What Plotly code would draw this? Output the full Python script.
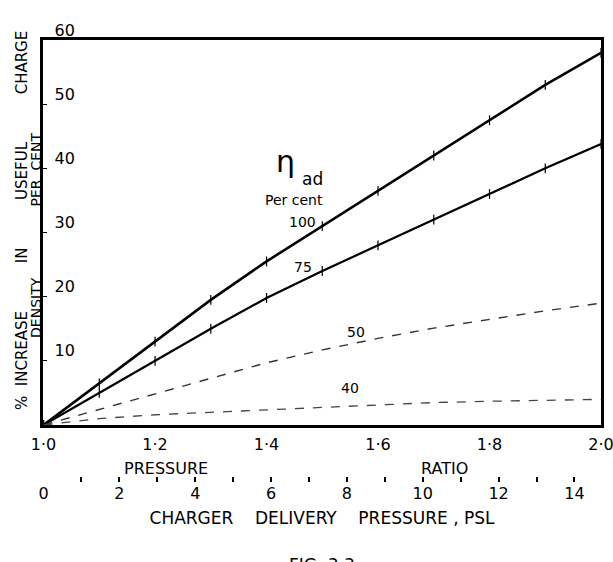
import plotly.graph_objects as go

# ---- data ----
pressure_ratio = [1.0, 1.1, 1.2, 1.3, 1.4, 1.5, 1.6, 1.7, 1.8, 1.9, 2.0]
eff_100 = [0, 6.5, 13.0, 19.5, 25.5, 31.0, 36.5, 42.0, 47.5, 53.0, 58.0]
eff_75 = [0, 5.0, 10.0, 15.0, 19.8, 24.0, 28.0, 32.0, 36.0, 40.0, 43.8]
eff_50 = [0, 2.4, 4.8, 7.3, 9.7, 11.7, 13.5, 15.1, 16.5, 17.8, 19.0]
eff_40 = [0, 1.0, 1.6, 2.0, 2.3, 2.8, 3.2, 3.5, 3.7, 3.9, 4.0]

ratio_range = [0.999, 2.0]
ratio_ticks = [1.0, 1.2, 1.4, 1.6, 1.8, 2.0]
ratio_labels = ["1·0", "1·2", "1·4", "1·6", "1·8", "2·0"]
atm_psi = 14.7
psi_ticks = list(range(0, 15))
psi_labels = [str(v) if v % 2 == 0 else "" for v in psi_ticks]
y_ticks = [10, 20, 30, 40, 50, 60]

curve_labels = ["100", "75", "50", "40"]
label_pos_x = [1.465, 1.465, 1.56, 1.55]
label_pos_y = [31.6, 24.6, 14.5, 5.8]

FONT = "DejaVu Sans"
NB = "\u00a0"

# psi axis range follows the ratio axis: ratio = 1 + p / 14.7
psi_range = [(r - 1.0) * atm_psi for r in ratio_range]

fig = go.Figure()
for ys, w, dash, col in [
    (eff_100, 2.6, "solid", "black"),
    (eff_75, 2.2, "solid", "black"),
    (eff_50, 1.4, "dash", "#333333"),
    (eff_40, 1.3, "dash", "#444444"),
]:
    fig.add_trace(go.Scatter(
        x=pressure_ratio, y=ys, mode="lines+markers" if dash == "solid" else "lines",
        line=dict(color=col, width=w, dash=dash),
        marker=dict(symbol="line-ns-open", size=7, line=dict(color=col, width=1.2)),
        hoverinfo="skip", showlegend=False,
    ))

# bind the psi axis so that it is drawn (no visible marks)
fig.add_trace(go.Scatter(x=psi_ticks, y=[None] * len(psi_ticks), xaxis="x2", yaxis="y",
                         mode="markers", hoverinfo="skip", showlegend=False))

for t, x, y in zip(curve_labels, label_pos_x, label_pos_y):
    fig.add_annotation(x=x, y=y, xref="x", yref="y", text=t, showarrow=False,
                       font=dict(family=FONT, size=14, color="black"))

# eta_ad label
fig.add_annotation(x=1.434, y=41.1, xref="x", yref="y", text="η", showarrow=False,
                   font=dict(family=FONT, size=30, color="black"))
fig.add_annotation(x=1.482, y=38.3, xref="x", yref="y", text="ad", showarrow=False,
                   font=dict(family=FONT, size=17, color="black"))
fig.add_annotation(x=1.45, y=35.0, xref="x", yref="y", text="Per cent", showarrow=False,
                   font=dict(family=FONT, size=14, color="black"))

# ratio axis title parts
fig.add_annotation(x=1.22, y=0.068, xref="x", yref="paper", yanchor="middle",
                   text="PRESSURE", showarrow=False,
                   font=dict(family=FONT, size=16, color="black"))
fig.add_annotation(x=1.72, y=0.068, xref="x", yref="paper", yanchor="middle",
                   text="RATIO", showarrow=False,
                   font=dict(family=FONT, size=16, color="black"))

# y-axis title (two lines)
gap = NB * 10
fig.add_annotation(x=0, y=0.6065, xref="paper", yref="paper", xanchor="center", yanchor="middle",
                   xshift=-21,
                   text="%" + NB * 2 + "INCREASE" + gap + "IN" + gap + "USEFUL" + gap + "CHARGE",
                   textangle=-90, showarrow=False, font=dict(family=FONT, size=15, color="black"))
fig.add_annotation(x=0, y=0.574, xref="paper", yref="paper", xanchor="center", yanchor="middle",
                   xshift=-7,
                   text="DENSITY" + NB * 16 + "PER" + NB * 2 + "CENT",
                   textangle=-90, showarrow=False, font=dict(family=FONT, size=14, color="black"))

# figure caption (cut off at bottom)
fig.add_annotation(x=0.5, y=-0.115, xref="paper", yref="paper", yanchor="top",
                   text="FIG" + NB * 2 + "3.3", showarrow=False,
                   font=dict(family=FONT, size=17, color="black"))

fig.update_layout(
    width=613, height=562,
    margin=dict(l=43, r=12, t=40, b=62, autoexpand=False),
    paper_bgcolor="white", plot_bgcolor="white",
    showlegend=False,
    font=dict(family=FONT, color="black"),
    xaxis=dict(
        range=ratio_range, tickvals=ratio_ticks, ticktext=ratio_labels,
        ticks="", showline=True, mirror=True, linecolor="black", linewidth=2.5,
        showgrid=False, zeroline=False, tickfont=dict(size=16, color="black"),
        ticklabelstandoff=3, ticklabeloverflow="allow", automargin=False,
    ),
    xaxis2=dict(
        overlaying="x", anchor="free", position=0.039, side="bottom",
        range=psi_range, tickvals=psi_ticks, ticktext=psi_labels,
        ticks="inside", ticklen=5, tickwidth=1.5, tickcolor="black",
        showline=False, showgrid=False, zeroline=False,
        tickfont=dict(size=16, color="black"),
        ticklabeloverflow="allow", automargin=False,
        title=dict(text="CHARGER" + NB * 4 + "DELIVERY" + NB * 4 + "PRESSURE" + NB + "," + NB + "PSL",
                   font=dict(size=17, color="black"), standoff=10),
    ),
    yaxis=dict(
        domain=[0.163, 1.0], range=[0, 60], tickvals=y_ticks,
        ticklabelposition="inside", ticks="inside", ticklen=4, tickcolor="black",
        showline=True, mirror=True, linecolor="black", linewidth=2.5,
        showgrid=False, zeroline=False, tickfont=dict(size=16, color="black"),
        ticklabelshift=-10, ticklabelstandoff=8, ticklabeloverflow="allow",
        automargin=False,
    ),
)

fig.write_html("out.html")
